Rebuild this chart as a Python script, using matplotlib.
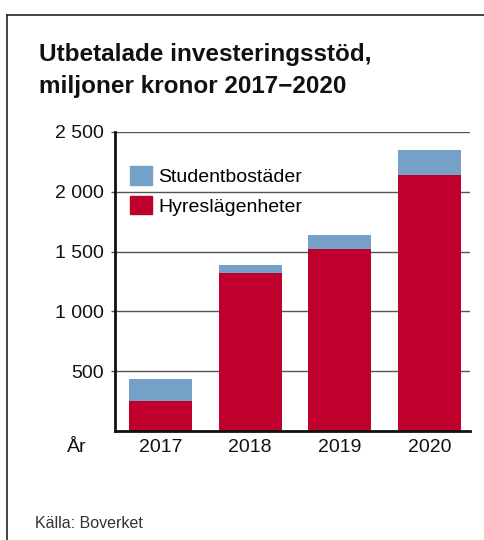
import matplotlib
matplotlib.use("Agg")
import matplotlib.pyplot as plt
from matplotlib.patches import Patch
from matplotlib.lines import Line2D

plt.rcParams['font.family'] = ['Liberation Sans', 'DejaVu Sans']

years = ["2017", "2018", "2019", "2020"]
hyres = [250, 1325, 1525, 2142]
student = [183, 67, 117, 208]
yticks = [500, 1000, 1500, 2000, 2500]
ytick_labels = ["500", "1 000", "1 500", "2 000", "2 500"]

RED = "#c0002c"
BLUE = "#75a1c9"

W, H = 484, 540
fig = plt.figure(figsize=(W / 100, H / 100), dpi=100)

# frame (top and left edges)
fig.add_artist(Line2D([7 / W, 1.0], [1 - 15 / H, 1 - 15 / H], color="#222222", lw=1.2, transform=fig.transFigure))
fig.add_artist(Line2D([7 / W, 7 / W], [0, 1 - 15 / H], color="#222222", lw=1.2, transform=fig.transFigure))

# title
fig.text(39 / W, 1 - 61 / H, "Utbetalade investeringsstöd,", fontsize=17.5, fontweight="bold", color="#111111", va="baseline", ha="left")
fig.text(39 / W, 1 - 93 / H, "miljoner kronor 2017\u22122020", fontsize=17.5, fontweight="bold", color="#111111", va="baseline", ha="left")

ax = fig.add_axes([115 / W, (H - 431) / H, 355 / W, 299 / H])
x = list(range(len(years)))
ax.bar(x, hyres, width=0.7, color=RED, label="Hyreslägenheter", zorder=3)
ax.bar(x, student, bottom=hyres, width=0.7, color=BLUE, label="Studentbostäder", zorder=3)

ax.set_xlim(-0.506, 3.45)
ax.set_ylim(0, 2500)
ax.set_yticks(yticks)
ax.set_yticklabels(ytick_labels)
ax.set_xticks(x)
ax.set_xticklabels(years)
ax.tick_params(axis="y", length=3, width=1, color="#555555", pad=5, labelsize=14, labelcolor="#111111")
ax.tick_params(axis="x", length=0, pad=6, labelsize=14, labelcolor="#111111")
ax.grid(axis="y", color="#555555", lw=1.0, zorder=1)
for s in ["top", "right"]:
    ax.spines[s].set_visible(False)
ax.spines["left"].set_linewidth(2.0)
ax.spines["bottom"].set_linewidth(2.0)
ax.spines["left"].set_color("#111111")
ax.spines["bottom"].set_color("#111111")
ax.spines["left"].set_zorder(4)
ax.spines["bottom"].set_zorder(4)

handles = [Patch(color=BLUE, label="Studentbostäder"), Patch(color=RED, label="Hyreslägenheter")]
ax.legend(handles=handles, loc="upper left", bbox_to_anchor=(0.042, 0.885), frameon=False,
          fontsize=14, handlelength=1.15, handleheight=1.1, labelspacing=0.48,
          handletextpad=0.3, borderpad=0, borderaxespad=0)

fig.text(77 / W, 1 - 447 / H, "År", fontsize=14, ha="center", va="center", color="#111111")
fig.text(35 / W, 1 - 523 / H, "Källa: Boverket", fontsize=11.5, ha="left", va="center", color="#333333")

fig.savefig("out.png", dpi=100)
